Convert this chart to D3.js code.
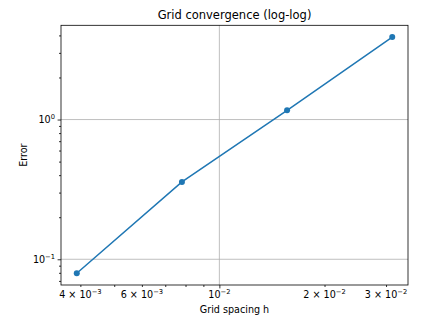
<!DOCTYPE html>
<html>
<head>
<meta charset="utf-8">
<script src="https://cdn.jsdelivr.net/npm/d3@7"></script>
<style>
  body { margin: 0; background: #fff; }
  text { font-family: "DejaVu Sans", sans-serif; fill: #000; }
</style>
</head>
<body>
<svg width="440" height="324"></svg>
<script>
// data
var hValues = [0.00390625, 0.0078125, 0.015625, 0.03125];
var errorValues = [0.0795, 0.358, 1.165, 3.89];

// ticks
var xMajorTicks = [0.01];
var xMinorTicks = [0.004, 0.005, 0.006, 0.007, 0.008, 0.009, 0.02, 0.03];
var xLabelTicks = [0.004, 0.006, 0.01, 0.02, 0.03];
var xLabelMantissa = ['4', '6', '', '2', '3'];
var xLabelExp = ['\u22123', '\u22123', '\u22122', '\u22122', '\u22122'];
var yMajorTicks = [0.1, 1];
var yMinorTicks = [0.07, 0.08, 0.09, 0.2, 0.3, 0.4, 0.5, 0.6, 0.7, 0.8, 0.9, 2, 3, 4];
var yLabelExp = ['\u22121', '0'];

var width = 440;
var height = 324;
var margin = {top: 25.3, bottom: 39, left: 61, right: 32};

// log scales with 5% margin in log space (like matplotlib)
var padLog = (ext) => {
    var a = Math.log10(ext[0]), b = Math.log10(ext[1]), p = (b - a) * 0.05;
    return [Math.pow(10, a - p), Math.pow(10, b + p)];
};
var xScale = d3.scaleLog()
    .domain(padLog(d3.extent(hValues)))
    .range([margin.left, width - margin.right]);
var yScale = d3.scaleLog()
    .domain(padLog(d3.extent(errorValues)))
    .range([height - margin.bottom, margin.top]);

var svg = d3.select('svg');
var x0 = margin.left, x1 = width - margin.right;
var y0 = margin.top, y1 = height - margin.bottom;

// grid (major only)
svg.append('g').selectAll('line')
    .data(xMajorTicks).enter().append('line')
    .attr('x1', d => xScale(d)).attr('x2', d => xScale(d))
    .attr('y1', y0).attr('y2', y1)
    .attr('stroke', '#b0b0b0').attr('stroke-width', 0.8);
svg.append('g').selectAll('line')
    .data(yMajorTicks).enter().append('line')
    .attr('x1', x0).attr('x2', x1)
    .attr('y1', d => yScale(d)).attr('y2', d => yScale(d))
    .attr('stroke', '#b0b0b0').attr('stroke-width', 0.8);

// line + markers
var line = d3.line()
    .x(d => xScale(d[0]))
    .y(d => yScale(d[1]));
var pts = d3.zip(hValues, errorValues);
svg.append('path')
    .datum(pts)
    .attr('d', line)
    .attr('fill', 'none')
    .attr('stroke', '#1f77b4')
    .attr('stroke-width', 1.5);
svg.selectAll('circle')
    .data(pts).enter().append('circle')
    .attr('cx', d => xScale(d[0]))
    .attr('cy', d => yScale(d[1]))
    .attr('r', 3)
    .attr('fill', '#1f77b4');

// axes (tick marks only, labels drawn below)
var styleAxis = g => {
    g.select('.domain').remove();
    g.selectAll('.tick line').attr('stroke', '#000').attr('stroke-width', 0.8);
    g.selectAll('.tick text').remove();
};
svg.append('g').attr('transform', 'translate(0,' + y1 + ')')
    .call(d3.axisBottom(xScale).tickValues(xMajorTicks).tickSize(3.4)).call(styleAxis);
svg.append('g').attr('transform', 'translate(0,' + y1 + ')')
    .call(d3.axisBottom(xScale).tickValues(xMinorTicks).tickSize(2)).call(styleAxis);
svg.append('g').attr('transform', 'translate(' + x0 + ',0)')
    .call(d3.axisLeft(yScale).tickValues(yMajorTicks).tickSize(3.4)).call(styleAxis);
svg.append('g').attr('transform', 'translate(' + x0 + ',0)')
    .call(d3.axisLeft(yScale).tickValues(yMinorTicks).tickSize(2)).call(styleAxis);

// spines
svg.append('rect')
    .attr('x', x0).attr('y', y0)
    .attr('width', x1 - x0).attr('height', y1 - y0)
    .attr('fill', 'none').attr('stroke', '#000').attr('stroke-width', 0.8);

// tick labels
var fs = 9.6;
var xl = svg.append('g').selectAll('text')
    .data(xLabelTicks).enter().append('text')
    .attr('x', d => xScale(d))
    .attr('y', y1 + 13.2)
    .attr('text-anchor', 'middle')
    .style('font-size', fs + 'px');
xl.each(function(d, i) {
    var t = d3.select(this);
    var m = xLabelMantissa[i];
    t.append('tspan').text((m ? m + ' \u00d7 ' : '') + '10');
    t.append('tspan').attr('dy', -4).style('font-size', (fs * 0.7) + 'px').text(xLabelExp[i]);
});
var yl = svg.append('g').selectAll('text')
    .data(yMajorTicks).enter().append('text')
    .attr('x', x0 - 6)
    .attr('y', d => yScale(d) + 3.5)
    .attr('text-anchor', 'end')
    .style('font-size', fs + 'px');
yl.each(function(d, i) {
    var t = d3.select(this);
    t.append('tspan').text('10');
    t.append('tspan').attr('dy', -4).style('font-size', (fs * 0.7) + 'px').text(yLabelExp[i]);
});

// titles
svg.append('text')
    .attr('x', (x0 + x1) / 2).attr('y', 19)
    .attr('text-anchor', 'middle')
    .style('font-size', '11.5px')
    .text('Grid convergence (log-log)');
svg.append('text')
    .attr('x', (x0 + x1) / 2).attr('y', 313)
    .attr('text-anchor', 'middle')
    .style('font-size', fs + 'px')
    .text('Grid spacing h');
svg.append('text')
    .attr('transform', 'translate(27,' + ((y0 + y1) / 2) + ') rotate(-90)')
    .attr('text-anchor', 'middle')
    .style('font-size', fs + 'px')
    .text('Error');
</script>
</body>
</html>
